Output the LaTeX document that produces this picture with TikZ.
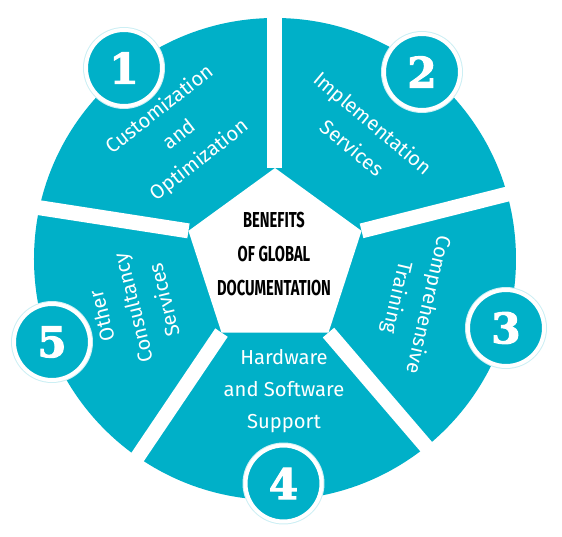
\documentclass[tikz,border=0pt]{standalone}
\usepackage{fontspec}
\setmainfont{Fira Sans}
\newfontfamily\headfont{Fira Sans}[FakeStretch=0.68]
\newfontfamily\numfont{DejaVu Serif Bold}[FakeBold=2.5]
\definecolor{tl}{RGB}{0,176,200}

\begin{document}
\begin{tikzpicture}[x=0.02cm, y=0.02cm,
    lbl/.style={text=white, align=center, font=\fontsize{11.5}{18.3}\selectfont},
    num/.style={circle, fill=tl, draw=white, line width=0.08cm, minimum size=1.52cm,
      inner sep=0pt, text=white, font=\numfont\fontsize{24}{24}\selectfont,
      preaction={draw=tl!20, line width=0.12cm}},
    gap/.style={white, line width=0.3cm}]
    \def\R{241}
    \def\Rg{262}
    \def\r{91}
    \useasboundingbox (-275,-278) rectangle (287,259);
    % ring of five sectors
    \fill[tl] (0,0) circle (\R);
    \foreach \a/\b in {90/90, 18/15.5, -54/-51, 234/235.3, 162/168}
        \draw[gap] (\a:\r) -- (\b:\Rg);
    \fill[white] (90:\r) -- (162:\r) -- (234:\r) -- (306:\r) -- (18:\r) -- cycle;
    % labels
    \node[lbl, rotate=38] (S1) at (-95,124) {Customization\\and\\Optimization};
    \node[lbl, rotate=-40] (S2) at (88,124) {Implementation\\Services};
    \node[lbl, rotate=-103] (S3) at (137,-42) {Comprehensive\\Training};
    \node[lbl] (S4) at (9,-132) {Hardware\\and Software\\Support};
    \node[lbl, rotate=104] (S5) at (-142,-49) {Other\\Consultancy\\Services};
    \node[font=\headfont\bfseries\fontsize{12.3}{19.3}\selectfont, align=center] (C) at (-1,5)
        {BENEFITS\\OF GLOBAL\\DOCUMENTATION};
    % numbers
    \node[num] (N1) at (-151,191) {1};
    \node[num] (N2) at (147,187) {2};
    \node[num] (N3) at (231,-69) {3};
    \node[num] (N4) at (8.5,-224.5) {4};
    \node[num] (N5) at (-223,-83) {5};
\end{tikzpicture}
\end{document}
